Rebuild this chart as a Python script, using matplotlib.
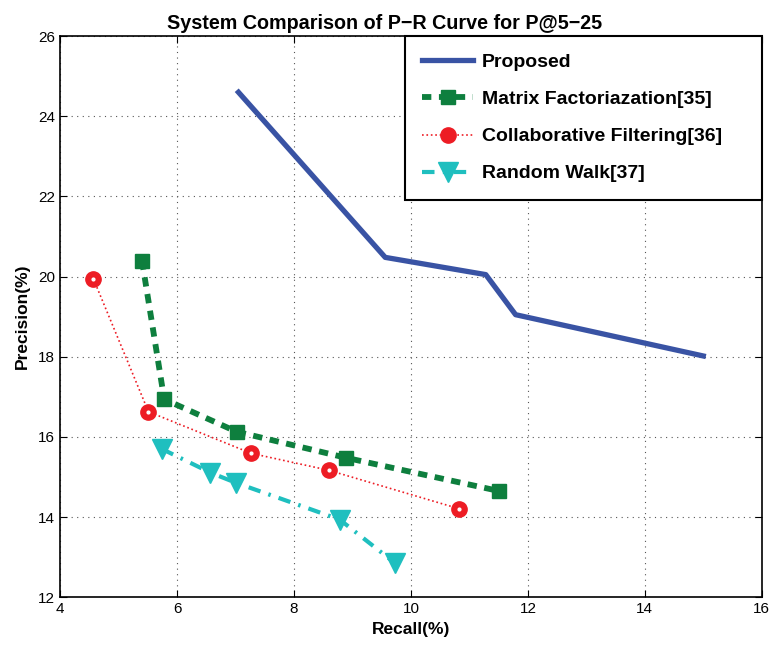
import matplotlib.pyplot as plt

plt.rcParams['font.family'] = ['Liberation Sans', 'DejaVu Sans']

# data
prop_x = [7.05, 9.56, 11.28, 11.79, 15.0]
prop_y = [24.6, 20.48, 20.05, 19.05, 18.02]
mf_x = [5.40, 5.78, 7.02, 8.89, 11.51]
mf_y = [20.4, 16.94, 16.13, 15.48, 14.65]
cf_x = [4.57, 5.51, 7.27, 8.59, 10.82]
cf_y = [19.94, 16.63, 15.59, 15.17, 14.21]
rw_x = [5.74, 6.57, 7.00, 8.78, 9.72]
rw_y = [15.70, 15.11, 14.86, 13.94, 12.86]

labels = ['Proposed', 'Matrix Factoriazation[35]',
          'Collaborative Filtering[36]', 'Random Walk[37]']
xticks = [4, 6, 8, 10, 12, 14, 16]
yticks = [12, 14, 16, 18, 20, 22, 24, 26]

fig = plt.figure(figsize=(7.71, 6.45), dpi=100)
ax = fig.add_axes([0.078, 0.074, 0.910, 0.870])

ax.plot(prop_x, prop_y, '-', color='#3953a4', lw=3.8, label=labels[0])
ax.plot(mf_x, mf_y, '--', color='#0e7f3e', lw=4.2, marker='s', ms=10,
        dashes=(1.6, 1.3), label=labels[1])
ax.plot(cf_x, cf_y, ':', color='#ed1c24', lw=1.2, marker='o', ms=11,
        label=labels[2])
ax.plot(cf_x, cf_y, 'o', color='white', ms=2)
ax.plot(rw_x, rw_y, '-.', color='#1fbfbf', lw=3.0, marker='v', ms=14,
        dashes=(3, 2, 0.6, 2), label=labels[3])

ax.set_xlim(4, 16)
ax.set_ylim(12, 26)
ax.set_xticks(xticks)
ax.set_yticks(yticks)
ax.tick_params(direction='in', top=True, right=True, labelsize=11, length=5)
ax.grid(True, linestyle=(0, (1, 4)), color='#555555', lw=0.8)
for s in ax.spines.values():
    s.set_linewidth(1.2)

ax.set_xlabel('Recall(%)', fontsize=12.5, fontweight='bold', labelpad=4)
ax.set_ylabel('Precision(%)', fontsize=12.5, fontweight='bold', labelpad=6)
ax.set_title('System Comparison of P\u2212R Curve for P@5\u221225',
             fontsize=14.2, fontweight='bold', pad=5, x=0.463)

h, l = ax.get_legend_handles_labels()
leg = ax.legend(h, l, loc='upper left', bbox_to_anchor=(0.4915, 0.7125, 0.5085, 0.2875),
                mode='expand', borderaxespad=0, numpoints=1,
                fancybox=False, framealpha=1, edgecolor='black',
                prop={'weight': 'bold', 'size': 14}, labelspacing=1.0,
                handlelength=2.6, borderpad=0.9, handletextpad=0.45)
leg.get_frame().set_linewidth(1.5)

fig.savefig('out.png', dpi=100)
